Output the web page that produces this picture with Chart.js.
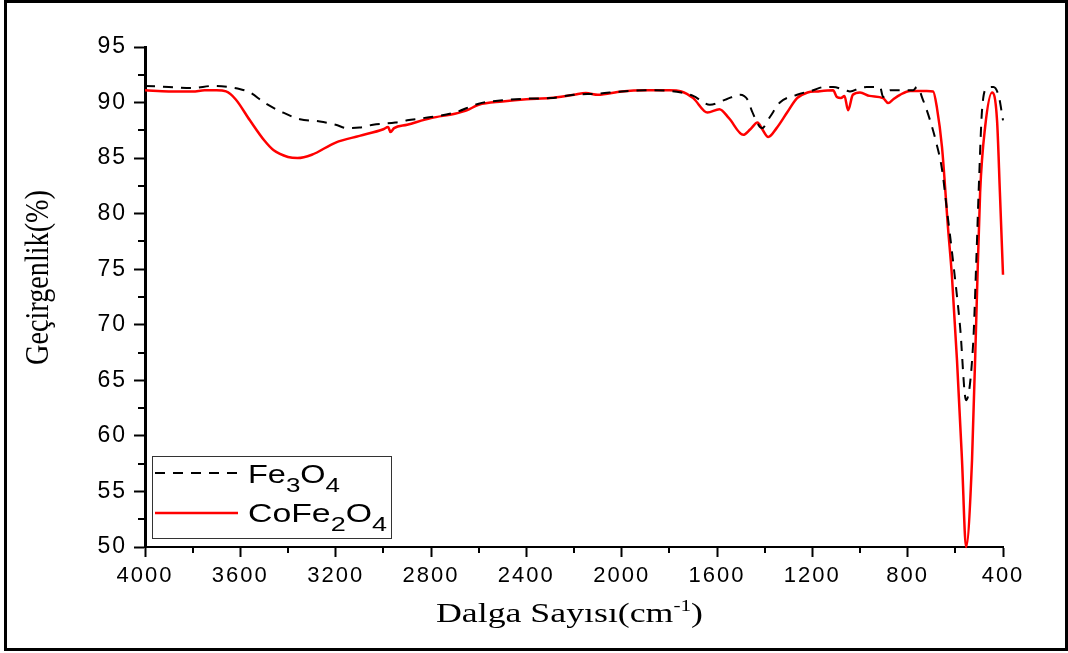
<!DOCTYPE html>
<html>
<head>
<meta charset="utf-8">
<script src="https://cdn.jsdelivr.net/npm/chart.js@4.4.1/dist/chart.umd.min.js"></script>
<style>
  html, body { margin: 0; padding: 0; background: #fff; }
  #wrap { width: 1068px; height: 653px; }
</style>
</head>
<body>
<div id="wrap"><canvas id="chart" width="1068" height="653"></canvas></div>
<script>
// Fe3O4 (dashed black) - wavenumber (cm-1) and transmittance (%)
const fe3o4X = [4000, 3900, 3800, 3715, 3650, 3600, 3559, 3500, 3421, 3350, 3266, 3200, 3152, 3100, 3043, 2950, 2900, 2800, 2700, 2600, 2500, 2400, 2300, 2200, 2100, 2000, 1900, 1800, 1750, 1700, 1630, 1560, 1503, 1470, 1453, 1411, 1378, 1336, 1264, 1197, 1150, 1113, 1060, 1042, 1000, 971, 916, 903, 874, 819, 777, 761, 735, 706, 680, 656, 635, 610, 580, 555, 525, 512, 500, 488, 467, 440, 417, 400];
const fe3o4Y = [91.5, 91.4, 91.3, 91.5, 91.4, 91.2, 90.9, 90.0, 89.1, 88.5, 88.3, 88.0, 87.7, 87.75, 88.0, 88.2, 88.4, 88.7, 89.1, 89.9, 90.2, 90.35, 90.4, 90.7, 90.8, 91.0, 91.1, 91.05, 90.9, 90.6, 89.8, 90.3, 90.7, 90.2, 89.2, 87.7, 88.7, 90.0, 90.7, 91.1, 91.4, 91.4, 91.1, 91.0, 91.3, 91.4, 91.4, 90.5, 91.1, 91.1, 91.1, 91.4, 90.2, 88.4, 86.4, 84.0, 80.3, 75.8, 69.8, 63.2, 68.4, 75.8, 83.3, 89.3, 91.3, 91.4, 90.5, 88.4];

// CoFe2O4 (solid red)
const cofe2o4X = [4000, 3900, 3800, 3750, 3700, 3660, 3620, 3560, 3500, 3460, 3400, 3360, 3300, 3200, 3100, 3000, 2980, 2970, 2955, 2900, 2800, 2700, 2650, 2600, 2500, 2400, 2300, 2200, 2150, 2100, 2000, 1900, 1800, 1750, 1700, 1640, 1590, 1550, 1490, 1460, 1430, 1410, 1385, 1350, 1306, 1264, 1220, 1180, 1113, 1097, 1080, 1065, 1050, 1030, 1000, 960, 903, 882, 860, 832, 790, 720, 693, 677, 656, 631, 614, 593, 572, 555, 530, 509, 496, 475, 446, 425, 413, 400];
const cofe2o4Y = [91.1, 91.0, 91.0, 91.1, 91.1, 91.0, 90.3, 88.4, 86.6, 85.7, 85.1, 85.0, 85.3, 86.4, 87.0, 87.6, 87.8, 87.35, 87.7, 88.0, 88.6, 89.0, 89.3, 89.8, 90.1, 90.3, 90.4, 90.7, 90.85, 90.7, 91.0, 91.1, 91.1, 91.0, 90.4, 89.1, 89.4, 88.6, 87.1, 87.6, 88.2, 87.6, 86.9, 87.7, 89.1, 90.4, 90.9, 91.0, 91.1, 90.5, 90.4, 90.6, 89.3, 90.7, 90.9, 90.6, 90.4, 89.95, 90.3, 90.7, 91.05, 91.05, 91.0, 89.5, 86.0, 78.8, 74.3, 66.8, 57.8, 50.0, 57.8, 72.9, 81.9, 87.8, 90.9, 88.4, 81.9, 74.5];

const xTicks = [4000, 3600, 3200, 2800, 2400, 2000, 1600, 1200, 800, 400];
const yTicks = [50, 55, 60, 65, 70, 75, 80, 85, 90, 95];
const xMinor = [3800, 3400, 3000, 2600, 2200, 1800, 1400, 1000, 600];
const yMinor = [52.5, 57.5, 62.5, 67.5, 72.5, 77.5, 82.5, 87.5, 92.5];

const toPoints = (xs, ys) => xs.map((x, i) => ({ x, y: ys[i] }));

// draws text made of parts (subscripts etc.), squeezed/stretched to a width
function richText(ctx, parts, x, y, width, family, sy) {
  let total = 0;
  parts.forEach(p => {
    ctx.font = p.size + 'px ' + family;
    p.w = ctx.measureText(p.t).width;
    total += p.w;
  });
  ctx.save();
  ctx.translate(x, y);
  ctx.scale(width / total, sy || 1);
  let cx = 0;
  parts.forEach(p => {
    ctx.font = p.size + 'px ' + family;
    ctx.fillText(p.t, cx, p.dy || 0);
    cx += p.w;
  });
  ctx.restore();
}

// the original picture is stretched sideways, so spread the tick digits a bit
const labelSpacing = '2px';

const decor = {
  id: 'decor',
  beforeDraw(chart) {
    chart.ctx.letterSpacing = labelSpacing;
  },
  afterDraw(chart) {
    const ctx = chart.ctx;
    const xs = chart.scales.x, ys = chart.scales.y;
    const area = chart.chartArea;
    ctx.letterSpacing = '0px';
    ctx.save();

    // minor ticks
    ctx.strokeStyle = '#000';
    ctx.lineWidth = 2;
    ctx.beginPath();
    xMinor.forEach(v => {
      const p = Math.round(xs.getPixelForValue(v));
      ctx.moveTo(p, area.bottom);
      ctx.lineTo(p, area.bottom + 6);
    });
    ctx.stroke();
    ctx.beginPath();
    yMinor.forEach(v => {
      const p = Math.round(ys.getPixelForValue(v));
      ctx.moveTo(area.left, p);
      ctx.lineTo(area.left - 7, p);
    });
    ctx.stroke();

    // axis titles
    ctx.fillStyle = '#000';
    ctx.textBaseline = 'alphabetic';
    ctx.textAlign = 'left';
    richText(ctx, [
      { t: 'Dalga Sayısı(cm', size: 27 },
      { t: '-1', size: 16, dy: -11 },
      { t: ')', size: 27 }
    ], 436, 622, 267, '"Liberation Serif"');

    ctx.save();
    ctx.translate(48, 365);
    ctx.rotate(-Math.PI / 2);
    richText(ctx, [{ t: 'Geçirgenlik(%)', size: 26 }], 0, 0, 175, '"Liberation Serif"', 1.3);
    ctx.restore();

    // legend
    ctx.fillStyle = '#fff';
    ctx.fillRect(152, 456, 240, 82);
    ctx.strokeStyle = '#333';
    ctx.lineWidth = 1;
    ctx.strokeRect(152.5, 456.5, 239, 82);

    ctx.lineWidth = 2;
    ctx.strokeStyle = '#000';
    ctx.setLineDash([10, 8]);
    ctx.beginPath();
    ctx.moveTo(155, 473);
    ctx.lineTo(240, 473);
    ctx.stroke();
    ctx.setLineDash([]);
    ctx.strokeStyle = '#ff0000';
    ctx.lineWidth = 2.5;
    ctx.beginPath();
    ctx.moveTo(155, 513);
    ctx.lineTo(238, 513);
    ctx.stroke();

    ctx.fillStyle = '#000';
    richText(ctx, [
      { t: 'Fe', size: 25 },
      { t: '3', size: 20, dy: 9 },
      { t: 'O', size: 25 },
      { t: '4', size: 20, dy: 9 }
    ], 248, 483, 92, '"Liberation Sans"');
    richText(ctx, [
      { t: 'CoFe', size: 25 },
      { t: '2', size: 20, dy: 9 },
      { t: 'O', size: 25 },
      { t: '4', size: 20, dy: 9 }
    ], 248, 522, 139, '"Liberation Sans"');

    // outer frame
    ctx.strokeStyle = '#000';
    ctx.lineWidth = 3;
    ctx.strokeRect(5.5, 1.5, 1061, 648);
    ctx.restore();
  }
};

const ctx = document.getElementById('chart').getContext('2d');
new Chart(ctx, {
  type: 'line',
  data: {
    datasets: [
      {
        label: 'Fe3O4',
        data: toPoints(fe3o4X, fe3o4Y),
        borderColor: '#000000',
        borderWidth: 2,
        borderDash: [10, 8],
        pointRadius: 0,
        cubicInterpolationMode: 'monotone',
        fill: false
      },
      {
        label: 'CoFe2O4',
        data: toPoints(cofe2o4X, cofe2o4Y),
        borderColor: '#ff0000',
        borderWidth: 2.5,
        pointRadius: 0,
        cubicInterpolationMode: 'monotone',
        fill: false
      }
    ]
  },
  options: {
    responsive: false,
    animation: false,
    clip: false,
    layout: { padding: { left: 0, top: 47, right: 65, bottom: 0 } },
    plugins: {
      legend: { display: false },
      tooltip: { enabled: false }
    },
    scales: {
      x: {
        type: 'linear',
        reverse: true,
        min: 400,
        max: 4000,
        afterFit: (scale) => { scale.height = 106; },
        afterBuildTicks: (scale) => { scale.ticks = xTicks.map(v => ({ value: v })); },
        grid: { display: true, drawOnChartArea: false, drawTicks: true, tickLength: 10, tickWidth: 2, tickColor: '#000' },
        border: { display: true, color: '#000', width: 2 },
        ticks: {
          color: '#000',
          padding: 6,
          maxRotation: 0,
          autoSkip: false,
          callback: (v) => String(v),
          font: { family: '"Liberation Sans"', size: 22 }
        }
      },
      y: {
        type: 'linear',
        min: 50,
        max: 95,
        afterFit: (scale) => { scale.width = 145; },
        afterBuildTicks: (scale) => { scale.ticks = yTicks.map(v => ({ value: v })); },
        grid: { display: true, drawOnChartArea: false, drawTicks: true, tickLength: 11, tickWidth: 2, tickColor: '#000' },
        border: { display: true, color: '#000', width: 3 },
        ticks: {
          color: '#000',
          padding: 7,
          autoSkip: false,
          callback: (v) => String(v),
          font: { family: '"Liberation Sans"', size: 23 }
        }
      }
    }
  },
  plugins: [decor]
});
</script>
</body>
</html>
